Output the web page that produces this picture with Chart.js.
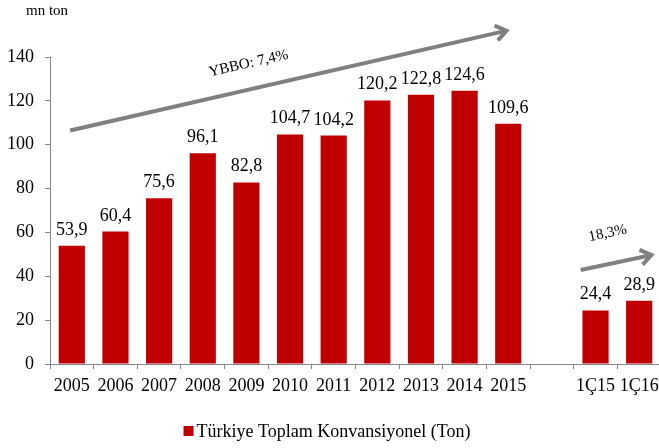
<!DOCTYPE html>
<html>
<head>
<meta charset="utf-8">
<script src="https://cdn.jsdelivr.net/npm/chart.js@4/dist/chart.umd.min.js"></script>
<style>
html,body{margin:0;padding:0;background:#fff;overflow:hidden;}
#wrap{width:661px;height:448px;position:relative;}
</style>
</head>
<body>
<div id="wrap"><canvas id="c"></canvas></div>
<script>
const categories = ['2005','2006','2007','2008','2009','2010','2011','2012','2013','2014','2015','','1Ç15','1Ç16'];
const values = [53.9,60.4,75.6,96.1,82.8,104.7,104.2,120.2,122.8,124.6,109.6,null,24.4,28.9];
const seriesName = 'Türkiye Toplam Konvansiyonel (Ton)';
const yTicks = [0,20,40,60,80,100,120,140];
const unitLabel = 'mn ton';
// trend annotations: [startIndex, startValue, endIndex, endValue]
const trendLong = [-0.04, 106.5, 9.96, 152.0];
const trendLongText = 'YBBO: 7,4%';
const trendLongTextPos = [4.05, 137.0];
const trendShort = [11.66, 42.9, 13.28, 49.7];
const trendShortText = '18,3%';
const trendShortTextPos = [12.28, 59.6];

const SERIF = '"Liberation Serif","Times New Roman",serif';
const GRAY = '#808080';
const AXIS = '#868686';
const BAR = '#C00000';

function drawArrow(ctx, x1, y1, x2, y2) {
  const ang = Math.atan2(y2 - y1, x2 - x1);
  ctx.save();
  ctx.strokeStyle = GRAY;
  ctx.lineWidth = 4;
  ctx.lineCap = 'butt';
  ctx.beginPath();
  ctx.moveTo(x1, y1);
  ctx.lineTo(x2 - 2 * Math.cos(ang), y2 - 2 * Math.sin(ang));
  ctx.stroke();
  const L = 13, a = 0.62;
  ctx.lineJoin = 'miter';
  ctx.beginPath();
  ctx.moveTo(x2 - L * Math.cos(ang - a), y2 - L * Math.sin(ang - a));
  ctx.lineTo(x2, y2);
  ctx.lineTo(x2 - L * Math.cos(ang + a), y2 - L * Math.sin(ang + a));
  ctx.stroke();
  ctx.restore();
}

const annot = {
  id: 'annot',
  afterDatasetsDraw(chart) {
    const ctx = chart.ctx;
    const xs = chart.scales.x, ys = chart.scales.y;
    // data labels
    const meta = chart.getDatasetMeta(0);
    ctx.save();
    ctx.font = '18px ' + SERIF;
    ctx.fillStyle = '#000';
    ctx.textAlign = 'center';
    ctx.textBaseline = 'alphabetic';
    meta.data.forEach((bar, i) => {
      const v = values[i];
      if (v === null || v === undefined) return;
      ctx.fillText(v.toFixed(1).replace('.', ','), bar.x, bar.y - 11);
    });
    ctx.restore();
    // arrows
    const arrows = [[trendLong, trendLongText, trendLongTextPos], [trendShort, trendShortText, trendShortTextPos]];
    arrows.forEach(([t, txt, pos]) => {
      const x1 = xs.getPixelForValue(t[0]), y1 = ys.getPixelForValue(t[1]);
      const x2 = xs.getPixelForValue(t[2]), y2 = ys.getPixelForValue(t[3]);
      drawArrow(ctx, x1, y1, x2, y2);
      const ang = Math.atan2(y2 - y1, x2 - x1);
      ctx.save();
      ctx.translate(xs.getPixelForValue(pos[0]), ys.getPixelForValue(pos[1]));
      ctx.rotate(ang);
      ctx.font = '15px ' + SERIF;
      ctx.fillStyle = '#000';
      ctx.textAlign = 'center';
      ctx.textBaseline = 'middle';
      ctx.fillText(txt, 0, 0);
      ctx.restore();
    });
    // unit label
    ctx.save();
    ctx.font = '15px ' + SERIF;
    ctx.fillStyle = '#000';
    ctx.textAlign = 'left';
    ctx.textBaseline = 'middle';
    ctx.fillText(unitLabel, 26, 11);
    ctx.restore();
    // legend
    ctx.save();
    ctx.font = '18px ' + SERIF;
    const label = chart.data.datasets[0].label;
    const tw = ctx.measureText(label).width;
    const total = 10 + 3 + tw;
    const lx = 327 - total / 2;
    ctx.fillStyle = chart.data.datasets[0].backgroundColor;
    ctx.fillRect(lx, 426, 10, 10);
    ctx.fillStyle = '#000';
    ctx.textAlign = 'left';
    ctx.textBaseline = 'alphabetic';
    ctx.fillText(label, lx + 13, 437);
    ctx.restore();
  }
};

new Chart(document.getElementById('c'), {
  type: 'bar',
  data: {
    labels: categories,
    datasets: [{
      label: seriesName,
      data: values,
      backgroundColor: BAR,
      borderWidth: 0,
      barPercentage: 0.6,
      categoryPercentage: 1.0
    }]
  },
  options: {
    responsive: true,
    maintainAspectRatio: false,
    animation: false,
    devicePixelRatio: 1,
    layout: { padding: { top: 57, left: 0, right: 0, bottom: 46 } },
    plugins: {
      tooltip: { enabled: false },
      legend: { display: false }
    },
    scales: {
      x: {
        offset: true,
        grid: { display: true, drawOnChartArea: false, offset: true, tickLength: 5, color: AXIS },
        border: { display: true, color: AXIS, width: 1 },
        ticks: { font: { family: SERIF, size: 18 }, color: '#000', padding: 6, maxRotation: 0, autoSkip: false },
        afterFit(s) { s.height = 38; s.paddingRight = 0; s.paddingLeft = 0; }
      },
      y: {
        min: 0,
        max: 140,
        afterBuildTicks(s) { s.ticks = yTicks.map(v => ({ value: v })); },
        grid: { display: true, drawOnChartArea: false, tickLength: 5, color: AXIS },
        border: { display: true, color: AXIS, width: 1 },
        ticks: { font: { family: SERIF, size: 18 }, color: '#000', padding: 11 },
        afterFit(s) { s.width = 50; }
      }
    }
  },
  plugins: [annot]
});
</script>
</body>
</html>
